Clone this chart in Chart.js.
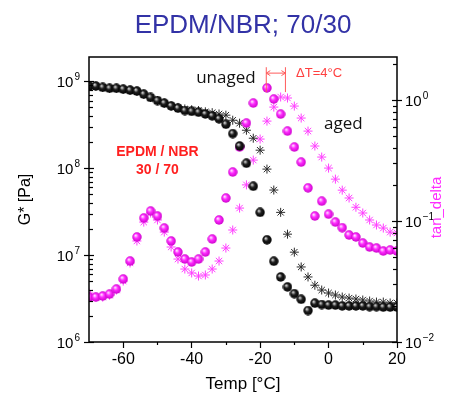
<!DOCTYPE html>
<html>
<head>
<meta charset="utf-8">
<script src="https://cdn.jsdelivr.net/npm/chart.js@4"></script>
<style>
  body { margin: 0; background: #fff; }
  canvas { display: block; }
</style>
</head>
<body>
<canvas id="dmaChart" width="461" height="396"></canvas>
<script>
// temperature steps (°C)
var tempG = [-70, -68, -66, -64, -62, -60, -58, -56, -54, -52, -50, -48, -46, -44, -42, -40, -38, -36,
             -34, -32, -30, -28, -26, -24, -22, -20, -18, -16, -14, -12, -10, -8, -6, -4, -2, 0,
             2, 4, 6, 8, 10, 12, 14, 16, 18, 20];
var tempTanUnaged = [-70, -68, -66, -64, -62, -60, -58, -56, -54, -52, -50, -48, -46, -44, -42, -40, -38, -36,
                     -34, -32, -30, -28, -26, -24, -22, -18, -16, -14, -12, -10, -8, -6, -4, -2, 0,
                     2, 4, 6, 8, 10, 12, 14, 16, 18, 20];

// G* [Pa]
var gUnaged = [8.8e8, 8.8e8, 8.5e8, 8.3e8, 8.3e8, 8.1e8, 7.9e8, 7.7e8, 7.1e8, 6.5e8, 6.0e8, 5.6e8, 5.2e8, 4.9e8, 4.6e8, 4.5e8, 4.4e8, 4.2e8,
               4.0e8, 3.7e8, 3.2e8, 2.5e8, 1.8e8, 1.14e8, 6.2e7, 3.1e7, 1.5e7, 8.5e6, 5.6e6, 4.3e6, 3.6e6, 3.1e6, 2.3e6, 2.8e6, 2.7e6, 2.66e6,
               2.66e6, 2.6e6, 2.6e6, 2.6e6, 2.6e6, 2.55e6, 2.55e6, 2.52e6, 2.52e6, 2.52e6];
var gAged = [8.8e8, 8.8e8, 8.5e8, 8.3e8, 8.3e8, 8.1e8, 7.9e8, 7.7e8, 7.1e8, 6.5e8, 6.0e8, 5.6e8, 5.2e8, 5.0e8, 4.8e8, 4.7e8, 4.6e8, 4.45e8,
             4.35e8, 4.2e8, 4.07e8, 3.56e8, 3.29e8, 2.73e8, 2.21e8, 1.61e8, 9.75e7, 5.6e7, 3.1e7, 1.74e7, 1.08e7, 7.3e6, 5.6e6, 4.5e6, 3.96e6, 3.66e6,
             3.47e6, 3.29e6, 3.2e6, 3.12e6, 3.04e6, 2.96e6, 2.88e6, 2.88e6, 2.81e6, 2.81e6];

// tan delta
var tanUnaged = [0.0235, 0.0235, 0.024, 0.0249, 0.0274, 0.0332, 0.0467, 0.0738, 0.106, 0.121, 0.11, 0.0875, 0.0684, 0.0554, 0.0485, 0.0458, 0.0485, 0.0554,
                 0.071, 0.102, 0.155, 0.254, 0.409, 0.646, 0.945, 1.26, 1.02, 0.766, 0.554, 0.409, 0.307, 0.188, 0.11, 0.146, 0.114,
                 0.098, 0.088, 0.0766, 0.0738, 0.0658, 0.061, 0.0598, 0.0565, 0.0576, 0.0565];
var tanAged = [0.0254, 0.0235, 0.0235, 0.0244, 0.0269, 0.0319, 0.045, 0.0684, 0.098, 0.1165, 0.102, 0.081, 0.061, 0.0485, 0.0401, 0.0372, 0.0351, 0.0358,
               0.0401, 0.0467, 0.0598, 0.0843, 0.128, 0.199, 0.319, 0.476, 0.67, 0.875, 1.06, 1.04, 0.892, 0.71, 0.554, 0.417, 0.338, 0.274,
               0.222, 0.18, 0.155, 0.13, 0.1165, 0.102, 0.0927, 0.0875, 0.081, 0.0796];

var xTicks = [-60, -40, -20, 0, 20];
var gDecades = [6, 7, 8, 9];
var tanDecades = [-2, -1, 0];

function pts(xs, ys) {
    return xs.map(function (x, i) { return { x: x, y: ys[i] }; });
}

// little shaded ball used as marker
function ball(hi, mid, edge) {
    var d = 10;
    var c = document.createElement('canvas');
    c.width = d; c.height = d;
    var g = c.getContext('2d');
    var gr = g.createRadialGradient(d * 0.36, d * 0.34, 0.4, d / 2, d / 2, d / 2);
    gr.addColorStop(0, hi);
    gr.addColorStop(0.4, mid);
    gr.addColorStop(1, edge);
    g.fillStyle = gr;
    g.beginPath();
    g.arc(d / 2, d / 2, d / 2 - 0.3, 0, Math.PI * 2);
    g.fill();
    return c;
}
var blackBall = ball('#d8d8d8', '#1e1e1e', '#000000');
var pinkBall = ball('#ffe0ff', '#ff2cff', '#c800c8');

var numFont = '"Liberation Sans", Arial, sans-serif';

function supLabel(ctx, exp, x, y, align) {
    var base = '10', sup = String(exp).replace('-', '\u2212');
    ctx.font = '15px ' + numFont;
    var wb = ctx.measureText(base).width;
    ctx.font = '10px ' + numFont;
    var ws = ctx.measureText(sup).width;
    var x0 = align === 'right' ? x - wb - ws - 1 : x;
    ctx.textAlign = 'left';
    ctx.textBaseline = 'alphabetic';
    ctx.font = '15px ' + numFont;
    ctx.fillText(base, x0, y + 5.5);
    ctx.font = '10px ' + numFont;
    ctx.fillText(sup, x0 + wb + 1, y - 1);
}

function logTicks(ctx, scale, decades, xEdge, dir) {
    var lo = decades[0], hi = decades[decades.length - 1] + 1;
    for (var e = lo; e <= hi; e++) {
        for (var m = 1; m < 10; m++) {
            var v = m * Math.pow(10, e);
            if (v < scale.min * 0.999 || v > scale.max * 1.001) continue;
            var py = Math.round(scale.getPixelForValue(v)) + 0.5;
            ctx.beginPath();
            if (m === 1) {
                ctx.moveTo(xEdge - 5, py);
                ctx.lineTo(xEdge + 5, py);
            } else {
                ctx.moveTo(xEdge, py);
                ctx.lineTo(xEdge + dir * 4, py);
            }
            ctx.stroke();
        }
    }
}

var decor = {
    id: 'decor',
    afterDraw: function (chart) {
        var ctx = chart.ctx, a = chart.chartArea;
        var sx = chart.scales.x, sy = chart.scales.y, sy2 = chart.scales.y2;
        ctx.save();

        // title
        ctx.fillStyle = '#3232a6';
        ctx.font = '26px ' + numFont;
        ctx.textAlign = 'center';
        ctx.textBaseline = 'alphabetic';
        ctx.fillText('EPDM/NBR; 70/30', 243, 33);

        // frame
        ctx.strokeStyle = '#000';
        ctx.lineWidth = 1.5;
        ctx.strokeRect(a.left, a.top, a.right - a.left, a.bottom - a.top);

        // y ticks
        ctx.lineWidth = 1.2;
        logTicks(ctx, sy, gDecades, a.left, 1);
        logTicks(ctx, sy2, tanDecades, a.right, -1);

        // x minor ticks
        [-50, -30, -10, 10].forEach(function (t) {
            var px = Math.round(sx.getPixelForValue(t)) + 0.5;
            ctx.beginPath();
            ctx.moveTo(px, a.bottom);
            ctx.lineTo(px, a.bottom + 3);
            ctx.stroke();
        });

        // y labels
        ctx.fillStyle = '#000';
        gDecades.forEach(function (e) {
            supLabel(ctx, e, a.left - 9, sy.getPixelForValue(Math.pow(10, e)), 'right');
        });
        tanDecades.forEach(function (e) {
            supLabel(ctx, e, a.right + 8, sy2.getPixelForValue(Math.pow(10, e)), 'left');
        });

        // right axis title
        ctx.save();
        ctx.translate(437, (a.top + a.bottom) / 2 + 8);
        ctx.rotate(-Math.PI / 2);
        ctx.fillStyle = '#ff2cff';
        ctx.font = '15px ' + numFont;
        ctx.textAlign = 'center';
        ctx.textBaseline = 'middle';
        ctx.fillText('tan_delta', 0, 0);
        ctx.restore();

        // annotations
        ctx.fillStyle = '#111';
        ctx.font = '17px "Open Sans", sans-serif';
        ctx.textAlign = 'center';
        ctx.textBaseline = 'middle';
        ctx.fillText('unaged', sx.getPixelForValue(-30), sy.getPixelForValue(1.08e9));
        ctx.fillText('aged', sx.getPixelForValue(4.3), sy.getPixelForValue(3.2e8));

        ctx.fillStyle = '#ff2020';
        ctx.font = 'bold 14px ' + numFont;
        ctx.fillText('EPDM / NBR', sx.getPixelForValue(-50), sy.getPixelForValue(1.53e8));
        ctx.fillText('30 / 70', sx.getPixelForValue(-50), sy.getPixelForValue(9.5e7));

        // delta T bracket
        var xa = sx.getPixelForValue(-18.2), xb = sx.getPixelForValue(-12.6);
        var yt = sy.getPixelForValue(1.45e9), yb = sy.getPixelForValue(7.5e8), ym = sy.getPixelForValue(1.24e9);
        ctx.strokeStyle = '#ff5a5a';
        ctx.lineWidth = 1;
        ctx.beginPath();
        ctx.moveTo(xa, yt); ctx.lineTo(xa, yb);
        ctx.moveTo(xb, yt); ctx.lineTo(xb, yb);
        ctx.moveTo(xa, ym); ctx.lineTo(xb, ym);
        ctx.moveTo(xa + 4, ym - 2.5); ctx.lineTo(xa, ym); ctx.lineTo(xa + 4, ym + 2.5);
        ctx.moveTo(xb - 4, ym - 2.5); ctx.lineTo(xb, ym); ctx.lineTo(xb - 4, ym + 2.5);
        ctx.stroke();
        ctx.fillStyle = '#ff4040';
        ctx.font = '13px ' + numFont;
        ctx.textAlign = 'left';
        ctx.fillText('\u0394T=4\u00b0C', sx.getPixelForValue(-9.5), ym);

        ctx.restore();
    }
};

var ctx = document.getElementById('dmaChart').getContext('2d');
var dmaChart = new Chart(ctx, {
    type: 'scatter',
    data: {
        datasets: [{
            label: 'G* unaged',
            data: pts(tempG, gUnaged),
            yAxisID: 'y',
            pointStyle: blackBall,
            order: 1
        }, {
            label: 'G* aged',
            data: pts(tempG, gAged),
            yAxisID: 'y',
            pointStyle: 'star',
            pointRadius: 4.5,
            borderColor: '#2a2a2a',
            borderWidth: 1,
            order: 2
        }, {
            label: 'tan_delta unaged',
            data: pts(tempTanUnaged, tanUnaged),
            yAxisID: 'y2',
            pointStyle: pinkBall,
            order: 1
        }, {
            label: 'tan_delta aged',
            data: pts(tempG, tanAged),
            yAxisID: 'y2',
            pointStyle: 'star',
            pointRadius: 4.5,
            borderColor: '#ff40ff',
            borderWidth: 1,
            order: 2
        }]
    },
    options: {
        responsive: false,
        animation: false,
        events: [],
        layout: { padding: { top: 57, left: 0, right: 0, bottom: 0 } },
        plugins: {
            legend: { display: false },
            tooltip: { enabled: false }
        },
        scales: {
            x: {
                type: 'linear',
                min: -70,
                max: 20,
                ticks: {
                    stepSize: 20,
                    includeBounds: false,
                    color: '#000',
                    padding: 2,
                    font: { size: 16, family: numFont }
                },
                grid: { drawOnChartArea: false, tickLength: 6, tickColor: '#000', tickWidth: 1.2 },
                border: { display: false },
                title: {
                    display: true,
                    text: 'Temp [°C]',
                    color: '#000',
                    font: { size: 17, family: numFont },
                    padding: { top: 0, bottom: 1 }
                },
                afterFit: function (s) { s.height = 54; }
            },
            y: {
                type: 'logarithmic',
                position: 'left',
                min: 1e6,
                max: 1.9e9,
                ticks: { display: false },
                grid: { display: false },
                border: { display: false },
                title: {
                    display: true,
                    text: 'G* [Pa]',
                    color: '#000',
                    font: { size: 16, family: numFont },
                    padding: { top: 16, bottom: 0 }
                },
                afterFit: function (s) { s.width = 89; }
            },
            y2: {
                type: 'logarithmic',
                position: 'right',
                min: 0.01,
                max: 2.27,
                ticks: { display: false },
                grid: { display: false },
                border: { display: false },
                afterFit: function (s) { s.width = 64; }
            }
        }
    },
    plugins: [decor]
});
</script>
</body>
</html>
